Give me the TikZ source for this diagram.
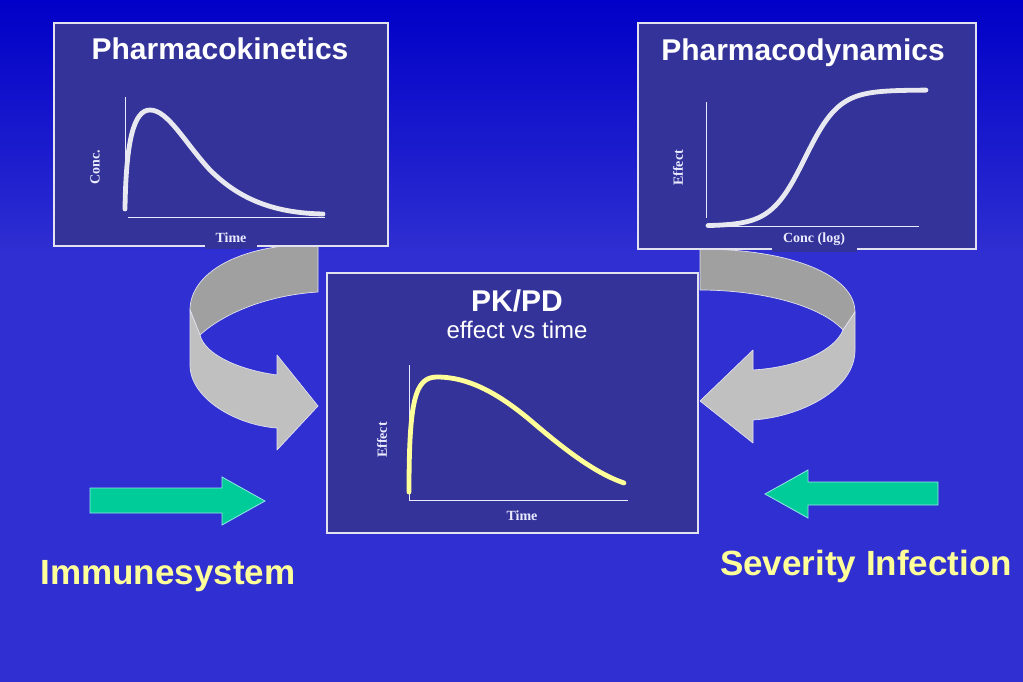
\documentclass[tikz,border=0pt]{standalone}
\usepackage{fontspec}
\setmainfont{Liberation Sans}
\newfontfamily\tnr{Liberation Serif}
\definecolor{bgtop}{RGB}{0,0,200}
\definecolor{bgmain}{RGB}{48,48,210}
\definecolor{boxfill}{RGB}{51,51,153}
\definecolor{boxedge}{RGB}{225,225,240}
\definecolor{gdark}{RGB}{160,160,160}
\definecolor{glight}{RGB}{192,192,192}
\definecolor{arrgreen}{RGB}{0,204,153}
\definecolor{greenedge}{RGB}{150,230,230}
\definecolor{lyellow}{RGB}{255,255,153}
\definecolor{curvewhite}{RGB}{232,232,240}
\begin{document}
\begin{tikzpicture}[x=1pt,y=-1pt,
  panel/.style={fill=boxfill,draw=boxedge,line width=2pt},
  title/.style={text=white,font=\fontsize{30}{34}\selectfont\bfseries,anchor=base,inner sep=0pt},
  subtitle/.style={text=white,font=\fontsize{24}{28}\selectfont,anchor=base,inner sep=0pt},
  axislab/.style={text=white!92!blue,font=\tnr\fontsize{14}{16}\selectfont\bfseries,inner sep=0pt},
  axisline/.style={draw=white!92!blue,line width=1pt},
  bigcurve/.style={line width=4.8pt,line cap=round,line join=round},
  band/.style={draw=boxedge,line width=0.7pt,line join=round},
  greenarrow/.style={fill=arrgreen,draw=greenedge,line width=0.8pt,line join=miter},
  biglabel/.style={text=lyellow,font=\fontsize{35}{40}\selectfont\bfseries,anchor=base,inner sep=0pt}]
\useasboundingbox (0,0) rectangle (1023,682);
% background
\fill[bgmain] (0,0) rectangle (1023,682);
\shade[top color=bgtop,bottom color=bgmain] (0,0) rectangle (1023,260);

% left curved arrow (back band, then front band)
\path[band,fill=gdark] (318,244) .. controls (235,244) and (190,275) .. (190,310)
  -- (200,335) .. controls (225,312) and (270,295) .. (318,292) -- cycle;
\path[band,fill=glight] (190,310) -- (190,365) .. controls (190,398) and (235,425) .. (277,428)
  -- (277,450) -- (318,406) -- (277,355) -- (277,375)
  .. controls (240,370) and (205,355) .. (200,335) -- cycle;

% right curved arrow
\path[band,fill=gdark] (700,249) .. controls (790,249) and (855,275) .. (855,312)
  -- (843,330) .. controls (820,305) and (760,290) .. (700,290) -- cycle;
\path[band,fill=glight] (855,312) -- (855,350) .. controls (855,390) and (800,417) .. (753,420)
  -- (753,443) -- (700,401) -- (753,350) -- (753,370)
  .. controls (800,367) and (835,350) .. (843,330) -- cycle;

% Pharmacokinetics panel
\node[panel,minimum width=334pt,minimum height=223pt,anchor=north west,inner sep=0pt] (pk) at (53,22) {};
\node[title] (pktitle) at (220,60) {Pharmacokinetics};
\draw[axisline] (125,97) -- (125,211);
\draw[axisline] (128,217) -- (325,217);
\draw[bigcurve,curvewhite] (125,209) .. controls (126,140) and (134,110) .. (150,110)
  .. controls (168,110) and (185,143) .. (210,170)
  .. controls (240,200) and (275,213) .. (323,214);
\node[axislab,rotate=90] (pkylab) at (95,167) {Conc.};
\node[fill=boxfill,minimum width=52pt,minimum height=20pt,inner sep=0pt,anchor=north west] (pkpatch) at (205,229) {};
\node[axislab,anchor=base] (pkxlab) at (231,242) {Time};

% Pharmacodynamics panel
\node[panel,minimum width=338pt,minimum height=226pt,anchor=north west,inner sep=0pt] (pd) at (637,22) {};
\node[title] (pdtitle) at (803,61) {Pharmacodynamics};
\draw[axisline] (706,102) -- (706,218);
\draw[axisline] (707,226) -- (919,226);
\draw[bigcurve,curvewhite] plot[domain=708:926,samples=120] (\x,{226-136/(1+exp(-(\x-805)/17))});
\node[axislab,rotate=90] (pdylab) at (678,168) {Effect};
\node[fill=boxfill,minimum width=85pt,minimum height=20pt,inner sep=0pt,anchor=north west] (pdpatch) at (772,232) {};
\node[axislab,anchor=base] (pdxlab) at (814,242) {Conc (log)};

% PK/PD panel
\node[panel,minimum width=371pt,minimum height=260pt,anchor=north west,inner sep=0pt] (pkpd) at (326,272) {};
\node[title] (pkpdtitle) at (517,311) {PK/PD};
\node[subtitle] (pkpdsub) at (517,338) {effect vs time};
\draw[axisline] (409,365) -- (409,500);
\draw[axisline] (409,500) -- (628,500);
\draw[bigcurve,lyellow] (409,492) .. controls (409,400) and (415,377) .. (437,377)
  .. controls (470,377) and (500,395) .. (530,420)
  .. controls (565,450) and (595,473) .. (624,483);
\node[axislab,rotate=90] (pkpdylab) at (382,440) {Effect};
\node[axislab,anchor=base] (pkpdxlab) at (522,520) {Time};

% green arrows
\path[greenarrow] (90,488) -- (222,488) -- (222,477) -- (265,501) -- (222,525) -- (222,513) -- (90,513) -- cycle;
\path[greenarrow] (938,482) -- (808,482) -- (808,470) -- (765,494) -- (808,518) -- (808,505) -- (938,505) -- cycle;

% labels
\node[biglabel] (immune) at (168,584) {Immunesystem};
\node[biglabel] (severity) at (866,575) {Severity Infection};
\end{tikzpicture}
\end{document}
